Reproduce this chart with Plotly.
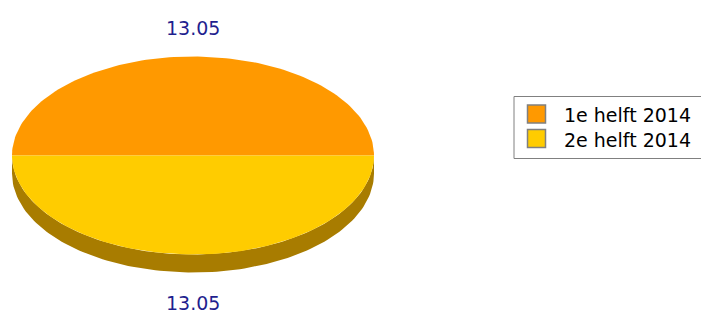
import math
import plotly.graph_objects as go

categories = ["1e helft 2014", "2e helft 2014"]
values = [13.05, 13.05]
top_colors = ["#FF9900", "#FFCC00"]
side_colors = ["#A86500", "#A87C00"]

W, H = 701, 315
cx, cy, rx, ry, depth = 193, 155.5, 181, 99, 18
total = sum(values)

fig = go.Figure()

def arc(a0, a1, n=120):
    pts = []
    for i in range(n + 1):
        t = a0 + (a1 - a0) * i / n
        pts.append((cx + rx * math.cos(t), cy - ry * math.sin(t)))
    return pts

angles = []
a = 0.0
for v in values:
    a1 = a + v / total * 2 * math.pi
    angles.append((a, a1))
    a = a1

# side walls (only front half visible: angles between pi and 2pi)
for (a0, a1), sc in zip(angles, side_colors):
    s0, s1 = max(a0, math.pi), min(a1, 2 * math.pi)
    if s1 > s0:
        top = arc(s0, s1)
        bot = [(x, y + depth) for x, y in reversed(top)]
        poly = top + bot + [top[0]]
        fig.add_trace(go.Scatter(x=[p[0] for p in poly], y=[p[1] for p in poly],
                                 fill="toself", fillcolor=sc, line=dict(width=0, color=sc),
                                 mode="lines", hoverinfo="skip", showlegend=False))

# top faces
for (a0, a1), tc, name in zip(angles, top_colors, categories):
    pts = [(cx, cy)] + arc(a0, a1) + [(cx, cy)]
    fig.add_trace(go.Scatter(x=[p[0] for p in pts], y=[p[1] for p in pts], name=name,
                             fill="toself", fillcolor=tc, line=dict(width=0, color=tc),
                             mode="lines", hoverinfo="skip", showlegend=False))

# value labels
for (a0, a1), v in zip(angles, values):
    m = (a0 + a1) / 2
    sy = -math.sin(m)
    extra = depth if sy > 0 else 0
    lx = cx + (rx + 30) * math.cos(m)
    ly = cy + (ry + 29) * sy + extra + (1 if sy > 0 else 0)
    fig.add_annotation(x=lx, y=ly, text=f"{v:.2f}", showarrow=False,
                       font=dict(family="DejaVu Sans", size=19, color="#1F1F8F"),
                       xanchor="center", yanchor="middle")

# legend (box, swatches, texts)
lg_x0, lg_y0, lg_y1 = 514, 96.5, 158.5
row_y = [114, 138.5]
fig.add_shape(type="rect", x0=lg_x0, x1=W + 20, y0=lg_y0, y1=lg_y1,
              xref="x", yref="y", line=dict(color="#808080", width=1),
              fillcolor="rgba(0,0,0,0)", layer="above")
for c, tc, yy in zip(categories, top_colors, row_y):
    fig.add_shape(type="rect", x0=527.5, x1=545.5, y0=yy - 9, y1=yy + 9,
                  xref="x", yref="y", line=dict(color="#808080", width=1.5),
                  fillcolor=tc, layer="above")
    fig.add_annotation(x=562, y=yy + 1, text=c, showarrow=False,
                       xref="x", yref="y", xanchor="left", yanchor="middle",
                       font=dict(family="DejaVu Sans", size=19, color="#000000"))

fig.update_layout(
    width=W, height=H,
    margin=dict(l=0, r=0, t=0, b=0),
    paper_bgcolor="white", plot_bgcolor="white",
    xaxis=dict(range=[0, W], visible=False, fixedrange=True),
    yaxis=dict(range=[H, 0], visible=False, fixedrange=True),
    showlegend=False,
)

fig.write_html("out.html", config={"displayModeBar": False},
               post_script="document.body.style.margin='0px';")
